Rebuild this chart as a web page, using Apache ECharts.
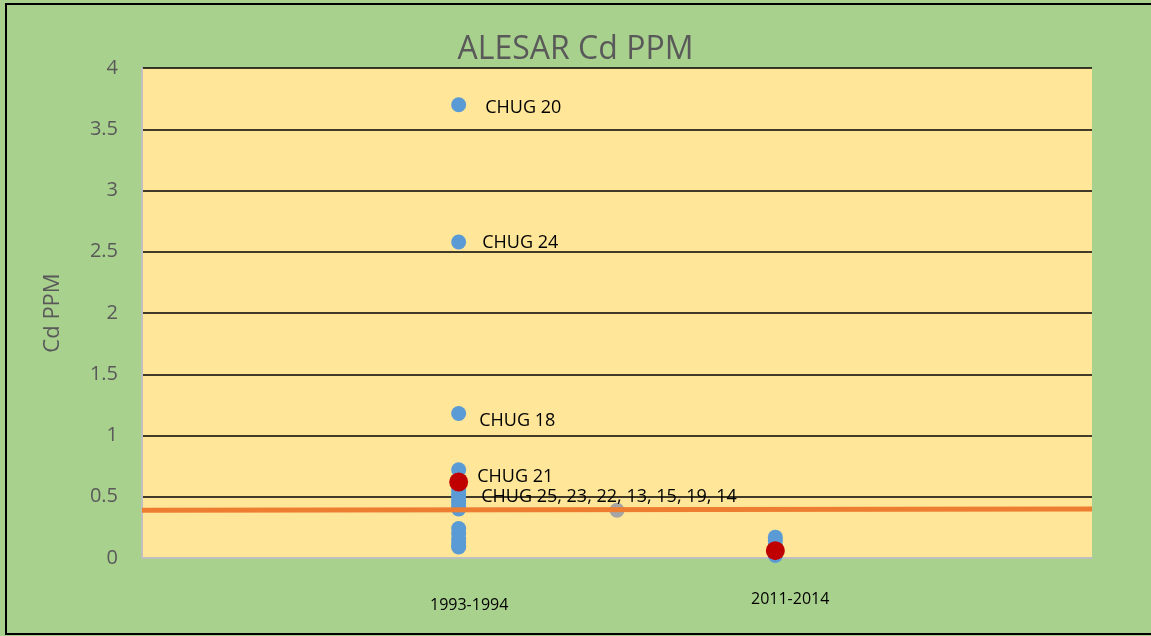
<!DOCTYPE html>
<html>
<head>
<meta charset="utf-8">
<script src="https://cdn.jsdelivr.net/npm/echarts@6/dist/echarts.min.js"></script>
<style>
  html, body { margin: 0; padding: 0; background: #fff; }
  #chart { width: 1151px; height: 636px; }
</style>
</head>
<body>
<div id="chart"></div>
<script>
// x positions of the two sampling periods on a hidden value axis
var periods = ['1993-1994', '2011-2014'];
var periodX = [1, 2];

// Cd PPM per sample, 1993-1994
var cd1993 = [3.7, 2.58, 1.18, 0.72, 0.55, 0.52, 0.5, 0.47, 0.45, 0.42, 0.4, 0.24, 0.2, 0.16, 0.13, 0.1, 0.09];
var labels1993 = ['CHUG 20', 'CHUG 24', 'CHUG 18', 'CHUG 21', '', '', 'CHUG 25, 23, 22, 13, 15, 19, 14', '', '', '', '', '', '', '', '', '', ''];
// Cd PPM per sample, 2011-2014
var cd2011 = [0.17, 0.14, 0.1, 0.06, 0.03, 0.02];
// red markers (average per period)
var cdMean = [0.62, 0.06];
// grey point and orange reference line
var greyPoint = [1.5, 0.39];
var refLineX = [0, 3];
var refLineY = [0.39, 0.4];

var yTicks = [0, 0.5, 1, 1.5, 2, 2.5, 3, 3.5, 4];

// nudges so the labels sit where the original ones do
var labelOffsets = {
    'CHUG 20': [11, 3],
    'CHUG 24': [8, 1],
    'CHUG 18': [5, 7],
    'CHUG 21': [3, 7],
    'CHUG 25, 23, 22, 13, 15, 19, 14': [7, 0]
};

function buildBlue() {
    var out = [];
    cd1993.forEach(function (v, i) {
        var item = { value: [periodX[0], v] };
        var txt = labels1993[i];
        if (txt) {
            item.label = {
                show: true,
                position: 'right',
                distance: 8,
                offset: labelOffsets[txt],
                formatter: txt,
                color: '#000',
                fontSize: 18,
                fontFamily: 'Open Sans'
            };
        }
        out.push(item);
    });
    cd2011.forEach(function (v) {
        out.push({ value: [periodX[1], v] });
    });
    return out;
}

var chart = echarts.init(document.getElementById('chart'));
var option = {
    backgroundColor: '#A9D18E',
    animation: false,
    title: {
        text: 'ALESAR Cd PPM',
        left: 'center',
        top: 29,
        textStyle: { color: '#595959', fontSize: 32, fontWeight: 'normal', fontFamily: 'Open Sans' }
    },
    grid: { left: 142, right: 59, top: 68, bottom: 78, show: true, backgroundColor: '#FFE699', borderWidth: 0 },
    xAxis: {
        type: 'value',
        min: 0,
        max: 3,
        axisLine: { show: true, onZero: true, lineStyle: { color: '#BFBFBF', width: 2 } },
        axisTick: { show: false },
        axisLabel: { show: false },
        splitLine: { show: false }
    },
    yAxis: {
        type: 'value',
        min: yTicks[0],
        max: yTicks[yTicks.length - 1],
        interval: 0.5,
        name: 'Cd PPM',
        nameLocation: 'middle',
        nameGap: 78,
        nameTextStyle: { color: '#595959', fontSize: 22, fontFamily: 'Open Sans' },
        axisLine: { show: true, lineStyle: { color: '#BFBFBF', width: 2 } },
        axisTick: { show: false },
        axisLabel: { color: '#595959', fontSize: 20, margin: 24, fontFamily: 'Open Sans' },
        splitLine: { show: true, lineStyle: { color: '#000', width: 1.5 } }
    },
    series: [
        {
            type: 'scatter',
            symbolSize: 15,
            itemStyle: { color: '#5B9BD5', opacity: 1 },
            data: buildBlue(),
            z: 3
        },
        {
            type: 'scatter',
            symbolSize: 15,
            itemStyle: { color: '#A5A5A5', opacity: 1 },
            data: [greyPoint],
            z: 3
        },
        {
            type: 'scatter',
            symbolSize: 19,
            itemStyle: { color: '#C00000', opacity: 1 },
            data: cdMean.map(function (v, i) { return [periodX[i], v]; }),
            z: 4
        },
        {
            type: 'line',
            symbol: 'none',
            lineStyle: { color: '#ED7D31', width: 5 },
            data: refLineX.map(function (x, i) { return [x, refLineY[i]]; }),
            z: 5
        }
    ],
    graphic: [
        {
            type: 'rect',
            shape: { x: 6, y: 4, width: 1152, height: 630 },
            style: { fill: null, stroke: '#000', lineWidth: 2 },
            silent: true
        },
        {
            type: 'text',
            left: 430, top: 597,
            style: { text: periods[0], fill: '#000', fontSize: 16, fontFamily: 'Open Sans' }
        },
        {
            type: 'text',
            left: 751, top: 591,
            style: { text: periods[1], fill: '#000', fontSize: 16, fontFamily: 'Open Sans' }
        }
    ]
};
chart.setOption(option);
</script>
</body>
</html>
